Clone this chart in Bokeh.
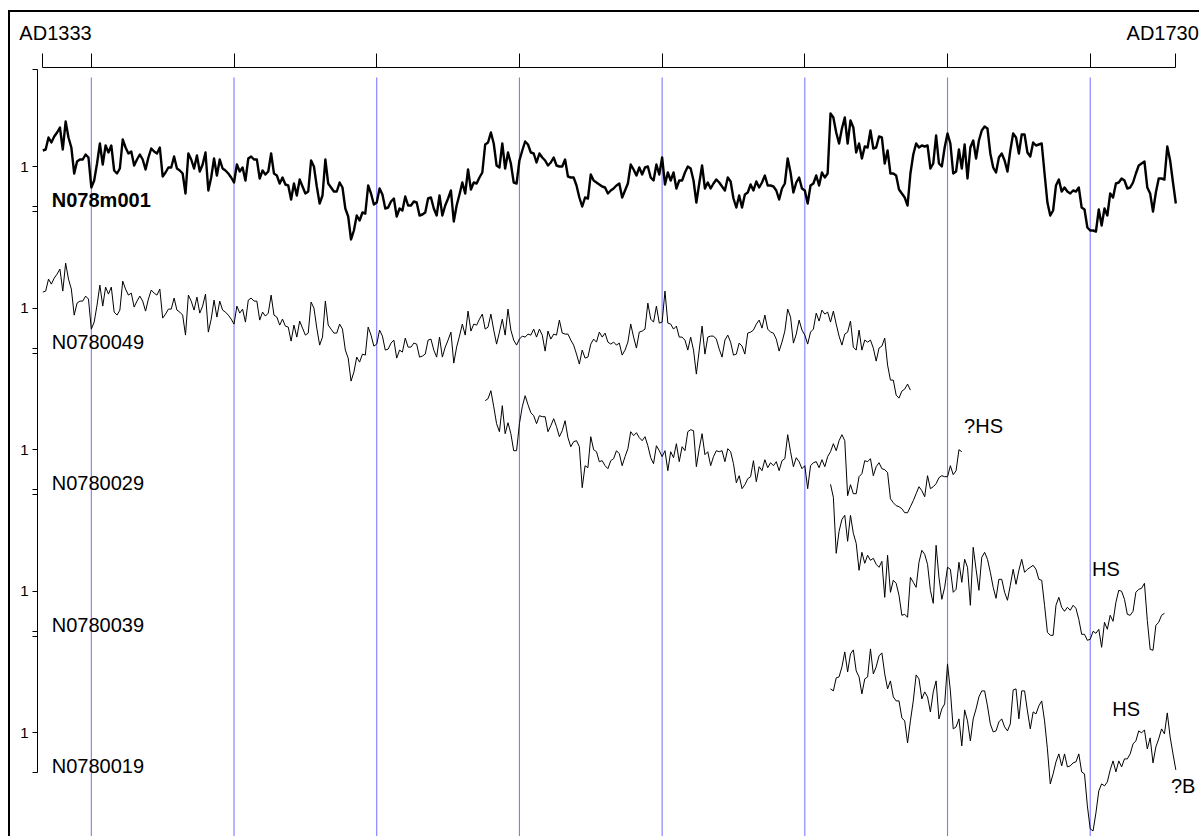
from bokeh.plotting import figure
from bokeh.models import Range1d, LinearAxis, FixedTicker, ColumnDataSource, CustomJSTickFormatter
from bokeh.transform import dodge
from bokeh.embed import file_html
from bokeh.resources import INLINE
from bokeh.core.properties import value

# ---------------- data (ring-width indices x100, i.e. 100 = index 1) ----------------
first_year = 1333
last_year = 1730
grid_years = [1350, 1400, 1450, 1500, 1550, 1600, 1650, 1700]
axis_ticks = [first_year] + grid_years + [last_year]
end_labels = ["AD1333", "AD1730"]

names = ["N078m001", "N0780049", "N0780029", "N0780039", "N0780019"]
start_years = [1333, 1333, 1488, 1609, 1609]

n078m001 = [
    116, 117, 129, 124, 130, 134, 139, 117, 145, 129,
    119, 93, 105, 107, 107, 112, 109, 79, 86, 103,
    123, 102, 121, 114, 121, 96, 93, 98, 127, 119,
    113, 115, 101, 107, 112, 107, 97, 109, 118, 115,
    113, 119, 90, 94, 99, 99, 110, 98, 96, 93,
    73, 113, 107, 98, 111, 95, 102, 114, 76, 89,
    108, 91, 107, 98, 96, 93, 89, 84, 102, 95,
    99, 86, 108, 110, 107, 107, 88, 96, 92, 95,
    113, 93, 91, 83, 89, 82, 81, 67, 83, 71,
    87, 80, 73, 75, 106, 100, 80, 63, 71, 107,
    83, 79, 75, 75, 84, 79, 58, 50, 27, 36,
    51, 46, 54, 53, 81, 73, 62, 64, 78, 72,
    58, 59, 65, 68, 50, 58, 56, 70, 61, 61,
    65, 64, 51, 52, 54, 68, 69, 58, 51, 71,
    51, 61, 68, 76, 45, 61, 72, 84, 73, 97,
    77, 84, 83, 89, 94, 122, 124, 134, 123, 101,
    99, 123, 98, 114, 103, 84, 83, 106, 116, 125,
    122, 114, 113, 104, 113, 109, 106, 101, 104, 109,
    101, 100, 100, 107, 90, 89, 89, 81, 69, 60,
    69, 68, 92, 86, 84, 82, 80, 79, 73, 76,
    78, 81, 83, 69, 76, 83, 102, 97, 91, 99,
    92, 99, 100, 89, 86, 102, 92, 109, 82, 94,
    86, 94, 78, 86, 86, 94, 100, 98, 86, 64,
    83, 101, 78, 84, 78, 83, 87, 84, 80, 76,
    89, 85, 68, 59, 71, 59, 72, 74, 82, 76,
    85, 79, 84, 91, 81, 81, 80, 76, 67, 78,
    83, 108, 94, 74, 84, 89, 78, 76, 63, 81,
    83, 91, 81, 94, 89, 93, 153, 149, 134, 123,
    138, 149, 123, 146, 139, 114, 123, 108, 120, 119,
    136, 118, 119, 130, 129, 103, 116, 93, 93, 91,
    77, 73, 69, 61, 93, 112, 123, 119, 121, 120,
    121, 98, 103, 131, 103, 100, 119, 133, 123, 93,
    95, 117, 98, 122, 88, 119, 126, 108, 126, 136,
    140, 138, 113, 99, 94, 109, 113, 106, 95, 116,
    133, 129, 113, 132, 132, 114, 110, 124, 121, 122,
    123, 93, 64, 51, 56, 81, 87, 75, 79, 75,
    73, 76, 75, 79, 59, 57, 39, 36, 36, 35,
    57, 41, 58, 51, 73, 69, 83, 84, 88, 86,
    78, 79, 84, 93, 101, 103, 105, 79, 73, 55,
    74, 88, 88, 87, 120, 106, 84, 63,
]

# N0780049 is the only series before 1488, so the master equals it there
n0780049 = n078m001[:155] + [
    79, 81, 94, 78, 64,
    76, 89, 73, 99, 78, 68, 63, 69, 72, 71,
    74, 73, 79, 71, 79, 73, 57, 77, 69, 74,
    73, 88, 75, 74, 74, 68, 63, 54, 44, 58,
    50, 51, 64, 69, 66, 76, 71, 75, 66, 64,
    66, 63, 65, 53, 58, 66, 84, 71, 60, 76,
    77, 79, 105, 89, 86, 102, 85, 86, 117, 85,
    84, 79, 82, 71, 71, 68, 58, 71, 58, 34,
    58, 82, 54, 71, 72, 72, 69, 59, 51, 68,
    73, 66, 53, 54, 65, 62, 54, 75, 76, 78,
    84, 88, 80, 93, 79, 76, 75, 69, 57, 66,
    77, 99, 91, 65, 74, 88, 78, 73, 64, 76,
    79, 95, 87, 98, 94, 96, 86, 97, 84, 72,
    63, 74, 76, 87, 61, 58, 78, 58, 68, 66,
    68, 60, 47, 60, 62, 70, 43, 28, 28, 13,
    10, 17, 19, 24, 18,
]

n0780029 = [
    149, 151, 159, 143, 126,
    118, 144, 116, 127, 116, 99, 99, 126, 143, 154,
    145, 137, 134, 126, 134, 133, 133, 118, 124, 131,
    123, 113, 119, 129, 112, 103, 108, 109, 103, 62,
    84, 82, 113, 100, 98, 88, 89, 84, 81, 89,
    91, 99, 96, 84, 93, 101, 118, 114, 117, 112,
    109, 113, 104, 92, 86, 104, 99, 93, 99, 79,
    98, 92, 106, 88, 103, 99, 118, 120, 119, 83,
    101, 116, 95, 98, 84, 93, 99, 98, 99, 88,
    101, 98, 86, 67, 74, 61, 65, 71, 73, 89,
    68, 83, 79, 90, 82, 87, 84, 88, 79, 89,
    91, 115, 98, 83, 92, 88, 81, 84, 61, 84,
    87, 88, 82, 90, 83, 93, 98, 106, 99, 109,
    115, 109, 54, 65, 56, 56, 73, 76, 89, 88,
    91, 74, 83, 87, 81, 80, 77, 51, 47, 44,
    43, 41, 37, 37, 43, 49, 56, 63, 59, 53,
    74, 61, 63, 66, 72, 74, 73, 73, 84, 75,
    79, 100, 98,
]

n0780039 = [
    207, 194, 138, 160,
    172, 176, 150, 176, 158, 148, 121, 139, 128, 136,
    131, 133, 127, 124, 130, 94, 136, 99, 111, 108,
    96, 76, 77, 74, 114, 109, 104, 129, 141, 137,
    127, 101, 88, 146, 114, 92, 104, 124, 122, 99,
    102, 129, 109, 132, 124, 86, 144, 122, 101, 134,
    139, 132, 119, 104, 93, 112, 112, 99, 91, 106,
    122, 107, 121, 132, 119, 122, 124, 126, 122, 112,
    111, 86, 59, 56, 56, 86, 94, 84, 80, 84,
    81, 86, 83, 72, 57, 57, 51, 52, 60, 58,
    62, 44, 69, 62, 76, 70, 89, 101, 100, 92,
    77, 76, 80, 99, 102, 103, 108, 71, 42, 41,
    66, 69, 76, 78,
]

n0780019 = [
    144, 142, 155, 156,
    166, 181, 161, 179, 183, 162, 156, 139, 154, 156,
    184, 159, 166, 177, 180, 159, 144, 152, 136, 132,
    132, 115, 112, 90, 112, 132, 158, 154, 134, 141,
    136, 121, 141, 152, 114, 124, 129, 169, 142, 104,
    106, 114, 87, 123, 112, 92, 114, 124, 136, 142,
    142, 127, 109, 101, 102, 111, 114, 106, 102, 109,
    143, 144, 114, 142, 142, 122, 104, 121, 119, 127,
    132, 112, 84, 49, 59, 71, 79, 67, 79, 66,
    67, 70, 71, 79, 61, 59, 27, 4, 2, 20,
    42, 49, 47, 51, 63, 72, 61, 72, 66, 74,
    74, 79, 89, 92, 102, 100, 103, 84, 95, 70,
    86, 94, 104, 99, 120, 96, 79, 63,
]

series = [n078m001, n0780049, n0780029, n0780039, n0780019]

note_rows = [2, 3, 4, 4]
note_years = [1655.8, 1700.6, 1707.7, 1728.3]
note_levels = [115, 114, 115, 38]
note_texts = ["?HS", "HS", "HS", "?B"]

# ---------------- layout ----------------
ROW = 141.6          # vertical spacing of the rows, in index units
ROW_TOP = 96.7       # extent of each row's axis above index 100
ROW_BOT = 40.0       # extent of each row's axis below index 100
NAME_LEVEL = 58      # baseline of the series names, in index units
TEXT_SHIFT = 8.5     # compensation for the text anchor of the svg backend
FONT = "Liberation Sans"
Y_BOTTOM = -572

p = figure(width=1191, height=826,
           x_range=Range1d(1331.14, 1738.99), y_range=Range1d(Y_BOTTOM, 199),
           output_backend="svg", toolbar_location=None,
           x_axis_location=None, y_axis_location=None,
           min_border_left=27, min_border_top=55, min_border_right=0, min_border_bottom=0,
           background_fill_color="white", border_fill_color="white",
           outline_line_color=None)
p.xgrid.visible = False
p.ygrid.visible = False
p.styles = {"margin-left": "8px", "margin-top": "10px",
            "border-left": "2px solid black", "border-top": "2px solid black"}

# top year axis: ticks
top_axis = LinearAxis(ticker=FixedTicker(ticks=axis_ticks), bounds=(first_year, last_year),
                      major_tick_out=14, major_tick_in=0, minor_tick_out=0, minor_tick_in=0,
                      major_label_overrides={t: "" for t in axis_ticks},
                      major_label_text_font_size="1px", major_label_standoff=0,
                      axis_line_color="black", major_tick_line_color="black")
p.add_layout(top_axis, "above")

# top year axis: end labels (set slightly inward, as in the original)
label_pos = [first_year + 4.45, last_year - 4.6]
end_axis = LinearAxis(ticker=FixedTicker(ticks=label_pos),
                      major_label_overrides=dict(zip(label_pos, end_labels)),
                      major_tick_out=0, major_tick_in=0, minor_tick_out=0, minor_tick_in=0,
                      major_label_standoff=10, major_label_text_font=FONT,
                      major_label_text_font_size="20px", major_label_text_color="black",
                      axis_line_color=None, major_tick_line_color=None)
p.add_layout(end_axis, "above")

# left row axes: brackets with the index value 1 marked in each row
ones = [100 - r * ROW for r in range(len(names))]
tops = [o + ROW_TOP for o in ones]
bots = [o - ROW_BOT for o in ones]
left_ticks = sorted(ones + tops + bots)
left_axis = LinearAxis(ticker=FixedTicker(ticks=left_ticks), bounds=(bots[-1], tops[0]),
                       major_tick_out=5, major_tick_in=0, minor_tick_out=0, minor_tick_in=0,
                       major_label_standoff=4,
                       major_label_text_font=FONT, major_label_text_font_size="15px",
                       major_label_text_color="black",
                       axis_line_color="black", major_tick_line_color="black")
left_axis.formatter = CustomJSTickFormatter(
    args=dict(ones=ones),
    code="return ones.some((o) => Math.abs(o - tick) < 1e-6) ? '1' : '';")
p.add_layout(left_axis, "left")

# blue grid every 50 years
p.segment(x0=grid_years, x1=grid_years, y0=[189] * len(grid_years),
          y1=[Y_BOTTOM] * len(grid_years), line_color="#7b7bff", line_width=1.1)

# series
for r, (vals, y0) in enumerate(zip(series, start_years)):
    src = ColumnDataSource(dict(year=list(range(y0, y0 + len(vals))), v=vals))
    p.line(x="year", y=dodge("v", -r * ROW, range=p.y_range), source=src,
           line_color="black", line_width=2.4 if r == 0 else 1, line_join="round")

# series names
lab = ColumnDataSource(dict(x=[first_year] * len(names),
                            y=[NAME_LEVEL + TEXT_SHIFT - r * ROW for r in range(len(names))],
                            t=names,
                            s=["bold"] + ["normal"] * (len(names) - 1)))
p.text(x="x", y="y", text="t", source=lab, x_offset=9, text_font=value(FONT),
       text_font_size="20px", text_font_style="s", text_baseline="alphabetic",
       text_align="left", text_color="black")

# notes
notes = ColumnDataSource(dict(x=note_years,
                              y=[lv + TEXT_SHIFT - r * ROW for lv, r in zip(note_levels, note_rows)],
                              t=note_texts))
p.text(x="x", y="y", text="t", source=notes, text_font=value(FONT), text_font_size="20px",
       text_baseline="alphabetic", text_align="left", text_color="black")

open("out.html", "w").write(file_html(p, INLINE))
